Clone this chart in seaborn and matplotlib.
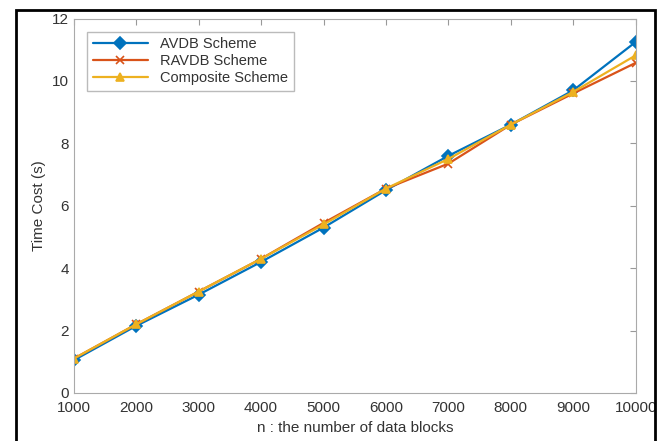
import matplotlib
matplotlib.use("Agg")
import matplotlib.pyplot as plt
import seaborn as sns
import pandas as pd
from matplotlib.patches import Rectangle

# values
blocks = [1000, 2000, 3000, 4000, 5000, 6000, 7000, 8000, 9000, 10000]
avdb = [1.05, 2.15, 3.15, 4.2, 5.3, 6.5, 7.6, 8.6, 9.7, 11.25]
ravdb = [1.1, 2.2, 3.25, 4.3, 5.45, 6.55, 7.35, 8.6, 9.6, 10.58]
composite = [1.1, 2.2, 3.25, 4.3, 5.4, 6.55, 7.5, 8.6, 9.65, 10.82]
scheme_names = ["AVDB Scheme", "RAVDB Scheme", "Composite Scheme"]

df = pd.DataFrame({
    "n": blocks * 3,
    "cost": avdb + ravdb + composite,
    "scheme": [s for s in scheme_names for _ in blocks],
})

sns.set_style("white")
plt.rcParams["font.family"] = ["Liberation Sans", "DejaVu Sans"]

fig = plt.figure(figsize=(6.65, 4.41), dpi=100)
ax = fig.add_axes([0.111, 0.109, 0.845, 0.849])

colors = ["#0072BD", "#D95319", "#EDB120"]
sns.lineplot(data=df, x="n", y="cost", hue="scheme", style="scheme",
             palette=colors, markers=["D", "X", "^"], dashes=False, linewidth=1.6,
             markersize=6, ax=ax)


def fix_marker(line):
    # marker edges in the line colour; thin cross for RAVDB, like the reference
    line.set_markeredgecolor(line.get_color())
    line.set_markeredgewidth(1.2)
    line.set_markersize(6)
    if line.get_marker() == "X":
        line.set_marker("x")


for line in ax.get_lines():
    fix_marker(line)

ax.set_xlim(1000, 10000)
ax.set_ylim(0, 12)
ax.set_xticks(blocks)
ax.set_xticklabels([str(b) for b in blocks])
ax.set_yticks(range(0, 13, 2))
ax.set_xlabel("n : the number of data blocks", fontsize=11, color="#333333", labelpad=4)
ax.set_ylabel("Time Cost (s)", fontsize=11, color="#333333")
ax.tick_params(direction="in", top=True, right=True, length=4, width=0.8,
               colors="#999999", labelcolor="#333333", labelsize=11)
ax.tick_params(axis="x", pad=6)
for sp in ax.spines.values():
    sp.set_color("#aaaaaa")
    sp.set_linewidth(0.8)

leg = ax.legend(loc="upper left", fontsize=10.5, frameon=True, fancybox=False,
                edgecolor="#aaaaaa", handlelength=3.8, borderaxespad=0.9,
                labelspacing=0.2)
for t in leg.get_texts():
    t.set_color("#333333")
for h in leg.legend_handles:
    fix_marker(h)

# black frame around the figure
fig.patches.append(Rectangle((16 / 665, -0.05), (655 - 16) / 665, 1.05 - 10 / 441,
                             transform=fig.transFigure, fill=False,
                             edgecolor="black", linewidth=2))

fig.savefig("out.png", dpi=100)
plt.close(fig)
